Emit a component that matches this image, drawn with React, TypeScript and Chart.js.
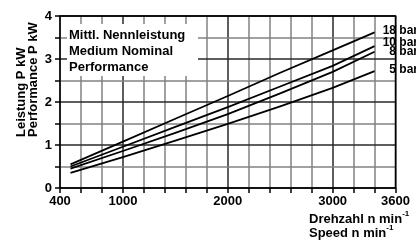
import React, { useEffect, useRef } from "react";
import { Chart, registerables } from "chart.js";

Chart.register(...registerables);

const speeds = [500, 1000, 1500, 2000, 2500, 3000, 3400];
const p18 = [0.55, 1.08, 1.61, 2.14, 2.68, 3.2, 3.62];
const p10 = [0.5, 0.96, 1.42, 1.88, 2.36, 2.84, 3.3];
const p8 = [0.45, 0.86, 1.28, 1.72, 2.2, 2.7, 3.17];
const p5 = [0.35, 0.72, 1.1, 1.49, 1.9, 2.33, 2.72];
const seriesLabels = ["18 bar", "10 bar", "8 bar", "5 bar"];
const xGrid = [400, 600, 800, 1000, 1200, 1400, 1600, 1800, 2000, 2200, 2400, 2600, 2800, 3000, 3200, 3400, 3600];
const yGrid = [0, 0.5, 1, 1.5, 2, 2.5, 3, 3.5, 4];
const xLabels = [400, 1000, 2000, 3000, 3600];
const xMajor = [1000, 2000, 3000];
const yLabels = [0, 1, 2, 3, 4];
const boxLines = ["Mittl. Nennleistung", "Medium Nominal", "Performance"];
const yTitle = ["Leistung P kW", "Performance P kW"];
const xTitle = ["Drehzahl n min", "Speed n min"];

const FONT = "'Liberation Sans', Arial, sans-serif";
const labelDy = [-2, -3, 0, -1];

export default function App() {
  const ref = useRef<HTMLCanvasElement | null>(null);
  useEffect(() => {
    const canvas = ref.current;
    if (!canvas) return;
    const all = [p18, p10, p8, p5];
    const overlay = {
      id: "overlay",
      beforeDatasetsDraw(chart: any) {
        const { ctx, chartArea: a, scales } = chart;
        const xs = scales.x;
        const ys = scales.y;
        ctx.save();
        xGrid.forEach((v) => {
          const px = Math.round(xs.getPixelForValue(v));
          ctx.strokeStyle = xMajor.includes(v) ? "rgb(40,40,40)" : "rgb(130,130,130)";
          ctx.lineWidth = 1.5;
          ctx.beginPath();
          ctx.moveTo(px, a.top);
          ctx.lineTo(px, a.bottom);
          ctx.stroke();
          ctx.strokeStyle = "rgb(0,0,0)";
          ctx.beginPath();
          ctx.moveTo(px, a.bottom);
          ctx.lineTo(px, a.bottom + 5);
          ctx.stroke();
        });
        yGrid.forEach((v) => {
          const py = Math.round(ys.getPixelForValue(v));
          ctx.strokeStyle = Number.isInteger(v) ? "rgb(40,40,40)" : "rgb(130,130,130)";
          ctx.lineWidth = 1.5;
          ctx.beginPath();
          ctx.moveTo(a.left, py);
          ctx.lineTo(a.right, py);
          ctx.stroke();
          ctx.strokeStyle = "rgb(0,0,0)";
          ctx.beginPath();
          ctx.moveTo(a.left - 5, py);
          ctx.lineTo(a.left, py);
          ctx.stroke();
        });
        ctx.strokeStyle = "rgb(0,0,0)";
        ctx.lineWidth = 1.6;
        ctx.strokeRect(a.left, a.top, a.right - a.left, a.bottom - a.top);
        ctx.fillStyle = "rgb(255,255,255)";
        ctx.fillRect(a.left + 7, 24, 131, 52);
        ctx.fillStyle = "rgb(0,0,0)";
        ctx.font = `bold 13px ${FONT}`;
        ctx.textBaseline = "middle";
        ctx.textAlign = "left";
        boxLines.forEach((t, i) => ctx.fillText(t, a.left + 9, 35 + i * 16));
        ctx.restore();
      },
      afterDraw(chart: any) {
        const { ctx } = chart;
        ctx.save();
        ctx.fillStyle = "rgb(0,0,0)";
        ctx.font = `bold 12px ${FONT}`;
        ctx.textAlign = "right";
        ctx.textBaseline = "middle";
        all.forEach((_, i) => {
          const meta = chart.getDatasetMeta(i);
          const last = meta.data[meta.data.length - 1];
          ctx.fillText(seriesLabels[i], 418, last.y + labelDy[i]);
        });
        ctx.font = `bold 13px ${FONT}`;
        ctx.textAlign = "left";
        ctx.textBaseline = "middle";
        [21, 33].forEach((x, i) => {
          ctx.save();
          ctx.translate(x, 137);
          ctx.rotate(-Math.PI / 2);
          ctx.fillText(yTitle[i], 0, 0);
          ctx.restore();
        });
        [219, 233].forEach((y, i) => {
          ctx.font = `bold 13px ${FONT}`;
          ctx.fillText(xTitle[i], 309, y);
          const w = ctx.measureText(xTitle[i]).width;
          ctx.font = `bold 8px ${FONT}`;
          ctx.fillText("-1", 309 + w, y - 5);
        });
        ctx.restore();
      },
    };

    const chart = new Chart(canvas, {
      type: "line",
      data: {
        datasets: all.map((vals, i) => ({
          label: seriesLabels[i],
          data: speeds.map((s, j) => ({ x: s, y: vals[j] })),
          borderColor: "rgb(0,0,0)",
          borderWidth: 1.8,
          pointRadius: 0,
          fill: false,
          tension: 0,
        })),
      },
      options: {
        animation: false,
        responsive: false,
        maintainAspectRatio: false,
        layout: { padding: { top: 16, right: 15, left: 0, bottom: 0 } },
        plugins: { legend: { display: false }, tooltip: { enabled: false } },
        scales: {
          x: {
            type: "linear",
            min: 400,
            max: 3600,
            afterBuildTicks(scale: any) {
              scale.ticks = xLabels.map((v) => ({ value: v }));
            },
            afterFit(scale: any) {
              scale.height = 54;
            },
            border: { display: false },
            grid: { display: false, drawTicks: false },
            ticks: {
              autoSkip: false,
              maxRotation: 0,
              padding: 6,
              color: "#000",
              font: { family: FONT, size: 13, weight: "bold" },
              callback: (v: any) => String(v),
            },
          },
          y: {
            type: "linear",
            min: 0,
            max: 4,
            afterBuildTicks(scale: any) {
              scale.ticks = yLabels.map((v) => ({ value: v }));
            },
            afterFit(scale: any) {
              scale.width = 60;
            },
            border: { display: false },
            grid: { display: false, drawTicks: false },
            ticks: {
              autoSkip: false,
              padding: 8,
              color: "#000",
              font: { family: FONT, size: 13, weight: "bold" },
              callback: (v: any) => String(v),
            },
          },
        },
      },
      plugins: [overlay],
    });
    return () => chart.destroy();
  }, []);

  return (
    <div style={{ position: "absolute", left: 0, top: 0, width: 416, height: 242, background: "#fff" }}>
      <canvas ref={ref} width={416} height={242} style={{ width: 416, height: 242 }} />
    </div>
  );
}
